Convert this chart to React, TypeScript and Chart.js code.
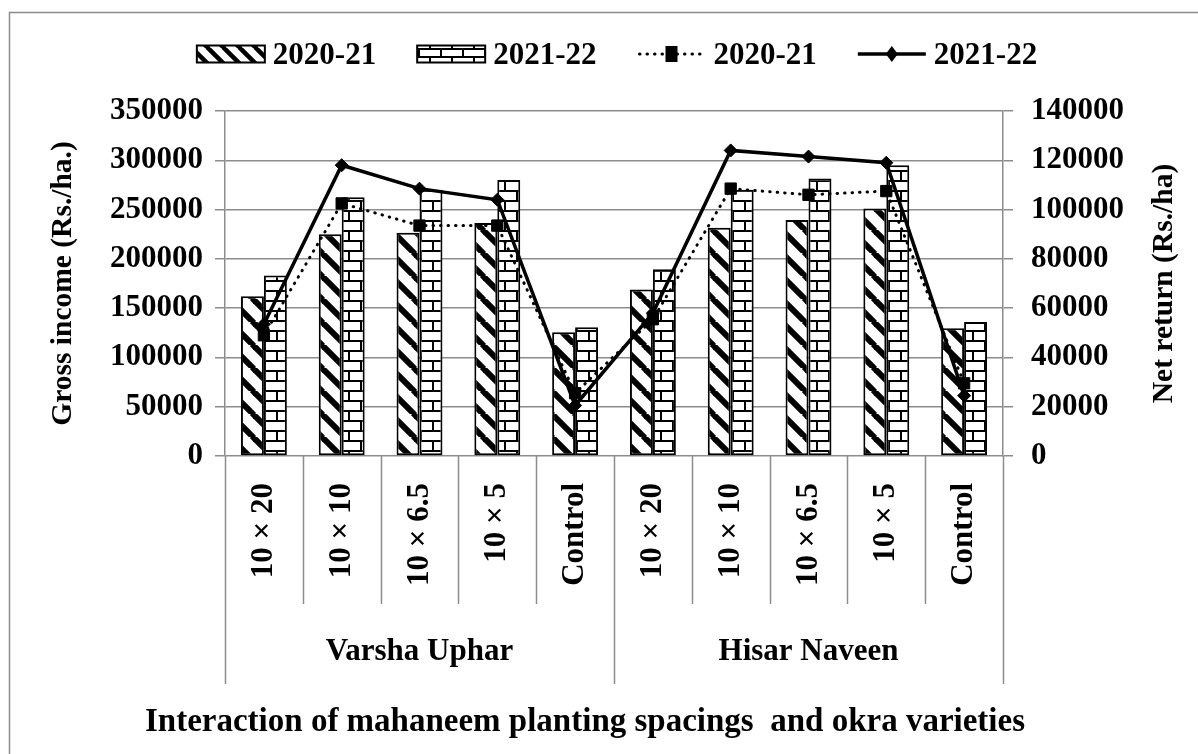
import { useEffect, useRef } from 'react';
import { Chart, registerables } from 'chart.js';
Chart.register(...registerables);

const categories = ['10 × 20', '10 × 10', '10 × 6.5', '10 × 5', 'Control', '10 × 20', '10 × 10', '10 × 6.5', '10 × 5', 'Control'];
const groups = ['Varsha Uphar', 'Hisar Naveen'];
const seriesNames = ['2020-21', '2021-22'];
const gross2021 = [162000, 225000, 226500, 236500, 125500, 169000, 231500, 239500, 251000, 129500];
const gross2122 = [183000, 262500, 270000, 280000, 130500, 189500, 270000, 281500, 295000, 136000];
const net2021 = [49000, 102500, 93500, 93500, 25500, 55500, 108500, 106000, 107500, 29500];
const net2122 = [53500, 118000, 108500, 104000, 20500, 58000, 124000, 121500, 119000, 24500];
const leftMax = 350000;
const leftStep = 50000;
const rightMax = 140000;
const rightStep = 20000;
const leftTitle = 'Gross income (Rs./ha.)';
const rightTitle = 'Net return (Rs./ha)';
const xTitle = 'Interaction of mahaneem planting spacings  and okra varieties';

const FAMILY = '"Liberation Serif", "Times New Roman", serif';
const FONT = `bold 31px ${FAMILY}`;
const AXIS_TITLE_FONT = `bold 29.5px ${FAMILY}`;
const X_TITLE_FONT = `bold 33px ${FAMILY}`;
const GRID = '#8c8c8c';

function stripePattern(P: number, lw: number) {
  const c = document.createElement('canvas');
  c.width = P; c.height = P;
  const g = c.getContext('2d')!;
  g.fillStyle = '#fff'; g.fillRect(0, 0, P, P);
  g.strokeStyle = '#000'; g.lineWidth = lw;
  for (let k = -1; k <= 1; k++) {
    g.beginPath();
    g.moveTo(k * P - 1, -1);
    g.lineTo(k * P + P + 1, P + 1);
    g.stroke();
  }
  return g.createPattern(c, 'repeat')!;
}

function brickPattern(W: number, H: number, lw: number) {
  const c = document.createElement('canvas');
  c.width = W; c.height = H;
  const g = c.getContext('2d')!;
  g.fillStyle = '#fff'; g.fillRect(0, 0, W, H);
  g.fillStyle = '#000';
  g.fillRect(0, 0, W, lw);
  g.fillRect(0, H / 2, W, lw);
  g.fillRect(0, 0, lw, H / 2);
  g.fillRect(W / 2, H / 2, lw, H / 2);
  return g.createPattern(c, 'repeat')!;
}

export default function App() {
  const ref = useRef<HTMLCanvasElement>(null);
  useEffect(() => {
    document.body.style.margin = '0';
    const canvas = ref.current!;
    const stripes = stripePattern(23, 6);
    const bricks = brickPattern(24, 20, 2);
    const legStripes = stripePattern(16, 4.5);
    const legBricks = brickPattern(22, 16, 2);

    const decor = {
      id: 'decor',
      beforeDraw(chart: any) {
        const ctx = chart.ctx;
        ctx.save();
        ctx.fillStyle = '#fff';
        ctx.fillRect(0, 0, chart.width, chart.height);
        ctx.strokeStyle = GRID;
        ctx.lineWidth = 1.5;
        ctx.strokeRect(9.5, 12.5, 1400, 1000);
        ctx.restore();
      },
      afterDraw(chart: any) {
        const { ctx, chartArea } = chart;
        const xs = chart.scales.x;
        const n = categories.length;
        const w = (chartArea.right - chartArea.left) / n;
        ctx.save();
        // separators
        ctx.strokeStyle = GRID;
        ctx.lineWidth = 1.5;
        for (let i = 0; i <= n; i++) {
          const bx = Math.round(xs.getPixelForValue(Math.min(i, n - 1)) + (i === n ? w / 2 : -w / 2)) + 0.5;
          const y2 = i % 5 === 0 ? 684 : 604;
          ctx.beginPath();
          ctx.moveTo(bx, chartArea.bottom);
          ctx.lineTo(bx, y2);
          ctx.stroke();
        }
        ctx.fillStyle = '#000';
        ctx.font = FONT;
        // category labels
        for (let i = 0; i < n; i++) {
          const px = xs.getPixelForValue(i);
          ctx.save();
          ctx.translate(px, 483);
          ctx.rotate(-Math.PI / 2);
          ctx.textAlign = 'right';
          ctx.textBaseline = 'middle';
          ctx.fillText(categories[i], 0, 0);
          ctx.restore();
        }
        // group labels
        ctx.textAlign = 'center';
        ctx.textBaseline = 'middle';
        groups.forEach((gname, g) => {
          const cx = (xs.getPixelForValue(g * 5) + xs.getPixelForValue(g * 5 + 4)) / 2;
          ctx.fillText(gname, cx, 652);
        });
        // x title
        ctx.font = X_TITLE_FONT;
        ctx.fillText(xTitle, 585, 722);
        // y titles
        ctx.font = AXIS_TITLE_FONT;
        const cy = (chartArea.top + chartArea.bottom) / 2;
        ctx.save();
        ctx.translate(63, cy);
        ctx.rotate(-Math.PI / 2);
        ctx.fillText(leftTitle, 0, 0);
        ctx.restore();
        ctx.save();
        ctx.translate(1164, cy);
        ctx.rotate(-Math.PI / 2);
        ctx.fillText(rightTitle, 0, 0);
        ctx.restore();
        // legend
        ctx.font = FONT;
        const ly = 54;
        const pw = 68, ph = 17;
        ctx.textAlign = 'left';
        const tw = seriesNames.map((s) => ctx.measureText(s).width);
        const items = [
          { kind: 'bar', fill: legStripes, label: seriesNames[0], t: tw[0] },
          { kind: 'bar', fill: legBricks, label: seriesNames[1], t: tw[1] },
          { kind: 'dot', label: seriesNames[0], t: tw[0] },
          { kind: 'solid', label: seriesNames[1], t: tw[1] },
        ];
        const gapText = 8, gapItem = 41;
        let total = 0;
        items.forEach((it, k) => { total += pw + gapText + it.t + (k < items.length - 1 ? gapItem : 0); });
        let lx = 617 - total / 2;
        items.forEach((it) => {
          if (it.kind === 'bar') {
            ctx.fillStyle = it.fill;
            ctx.fillRect(lx, ly - ph / 2, pw, ph);
            ctx.strokeStyle = '#000';
            ctx.lineWidth = 2;
            ctx.strokeRect(lx, ly - ph / 2, pw, ph);
          } else if (it.kind === 'dot') {
            ctx.strokeStyle = '#000';
            ctx.lineWidth = 3;
            ctx.lineCap = 'round';
            ctx.setLineDash([0.5, 7]);
            ctx.beginPath();
            ctx.moveTo(lx + 2, ly);
            ctx.lineTo(lx + pw - 2, ly);
            ctx.stroke();
            ctx.setLineDash([]);
            ctx.fillStyle = '#000';
            ctx.fillRect(lx + pw / 2 - 6, ly - 8, 12, 16);
          } else {
            ctx.strokeStyle = '#000';
            ctx.lineWidth = 3.5;
            ctx.lineCap = 'butt';
            ctx.beginPath();
            ctx.moveTo(lx, ly);
            ctx.lineTo(lx + pw, ly);
            ctx.stroke();
            ctx.fillStyle = '#000';
            ctx.beginPath();
            ctx.moveTo(lx + pw / 2, ly - 8);
            ctx.lineTo(lx + pw / 2 + 6, ly);
            ctx.lineTo(lx + pw / 2, ly + 8);
            ctx.lineTo(lx + pw / 2 - 6, ly);
            ctx.closePath();
            ctx.fill();
          }
          ctx.fillStyle = '#000';
          ctx.fillText(it.label, lx + pw + gapText, ly + 2);
          lx += pw + gapText + it.t + gapItem;
        });
        ctx.restore();
      },
    };

    const tickFont = { family: FAMILY, size: 31, weight: 'bold' as const };
    const chart = new Chart(canvas, {
      type: 'bar',
      data: {
        labels: categories,
        datasets: [
          {
            type: 'line', label: seriesNames[0] + ' net', data: net2021, yAxisID: 'y1', order: 0,
            borderColor: '#000', borderWidth: 3, borderDash: [0.5, 7], borderCapStyle: 'round',
            pointStyle: 'rect', pointRadius: 8, pointBackgroundColor: '#000', pointBorderColor: '#000', pointBorderWidth: 1,
            tension: 0, fill: false,
          } as any,
          {
            type: 'line', label: seriesNames[1] + ' net', data: net2122, yAxisID: 'y1', order: 0,
            borderColor: '#000', borderWidth: 3.5,
            pointStyle: 'rectRot', pointRadius: 6.5, pointBackgroundColor: '#000', pointBorderColor: '#000', pointBorderWidth: 1,
            tension: 0, fill: false,
          } as any,
          {
            type: 'bar', label: seriesNames[0], data: gross2021, yAxisID: 'y', order: 1,
            backgroundColor: stripes, borderColor: '#000', borderWidth: 2, borderSkipped: false,
            categoryPercentage: 0.59, barPercentage: 1,
          },
          {
            type: 'bar', label: seriesNames[1], data: gross2122, yAxisID: 'y', order: 1,
            backgroundColor: bricks, borderColor: '#000', borderWidth: 2, borderSkipped: false,
            categoryPercentage: 0.59, barPercentage: 1,
          },
        ],
      },
      options: {
        responsive: false,
        animation: false,
        layout: { padding: { top: 111, left: 0, right: 0, bottom: 0 } },
        plugins: { legend: { display: false }, tooltip: { enabled: false }, title: { display: false } },
        scales: {
          x: {
            type: 'category',
            grid: { display: false },
            border: { display: false },
            ticks: { display: false },
            afterFit: (s: any) => { s.height = 298; },
          },
          y: {
            position: 'left', min: 0, max: leftMax,
            ticks: { stepSize: leftStep, font: tickFont, color: '#000', padding: 12, callback: (v: any) => String(v) },
            grid: { color: GRID, lineWidth: 1.5, tickLength: 10 },
            border: { color: GRID, width: 1.5 },
            afterFit: (s: any) => { s.width = 225; },
          },
          y1: {
            position: 'right', min: 0, max: rightMax,
            ticks: { stepSize: rightStep, font: tickFont, color: '#000', padding: 18, callback: (v: any) => String(v) },
            grid: { drawOnChartArea: false, color: GRID, lineWidth: 1.5, tickLength: 10 },
            border: { color: GRID, width: 1.5 },
            afterFit: (s: any) => { s.width = 195; },
          },
        },
      },
      plugins: [decor],
    });
    return () => chart.destroy();
  }, []);
  return (
    <div style={{ width: 1198, height: 754, position: 'relative' }}>
      <canvas ref={ref} width={1198} height={754} />
    </div>
  );
}
